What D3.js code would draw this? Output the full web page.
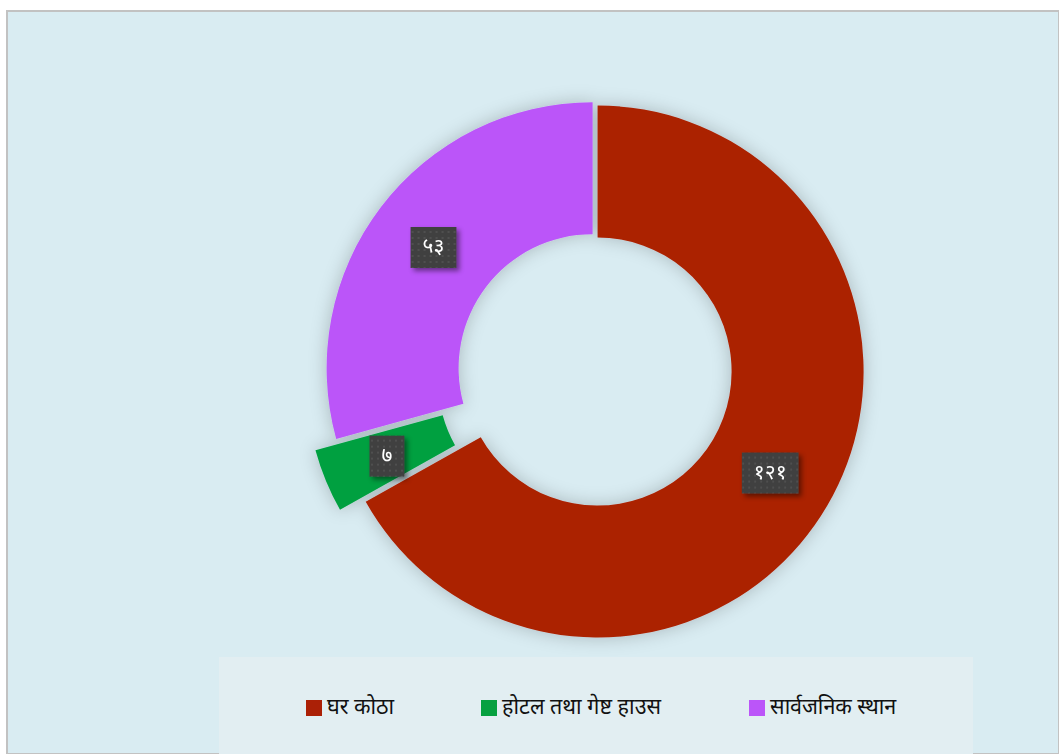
<!DOCTYPE html>
<html>
<head>
<meta charset="utf-8">
<script src="https://cdn.jsdelivr.net/npm/d3@7"></script>
<style>
  body { margin: 0; background: #fff; }
  svg text { font-family: "Noto Sans", "Lohit Devanagari", "FreeSans", sans-serif; }
</style>
</head>
<body>
<div id="chart"></div>
<script>
// data
var categories = ["घर कोठा", "होटल तथा गेष्ट हाउस", "सार्वजनिक स्थान"];
var values = [121, 7, 53];
var valueLabels = ["१२१", "७", "५३"];
var colors = ["#ab2006", "#06a040", "#bb55f9"];
var explode = [3, 25, 3];

var width = 1059;
var height = 754;
var cx = 595, cy = 370;
var outerR = 266, innerR = 134;

var svg = d3.select("#chart")
    .append("svg")
    .attr("width", width)
    .attr("height", height);

var defs = svg.append("defs");

var shadow = defs.append("filter").attr("id", "pie-shadow")
    .attr("x", "-20%").attr("y", "-20%").attr("width", "140%").attr("height", "140%");
shadow.append("feDropShadow")
    .attr("dx", 0).attr("dy", 0)
    .attr("stdDeviation", 9)
    .attr("flood-color", "#000")
    .attr("flood-opacity", 0.22);

var boxShadow = defs.append("filter").attr("id", "box-shadow")
    .attr("x", "-30%").attr("y", "-30%").attr("width", "160%").attr("height", "160%");
boxShadow.append("feDropShadow")
    .attr("dx", 3).attr("dy", 3)
    .attr("stdDeviation", 2.5)
    .attr("flood-color", "#000")
    .attr("flood-opacity", 0.45);

var dots = defs.append("pattern").attr("id", "dots")
    .attr("width", 6).attr("height", 6)
    .attr("patternUnits", "userSpaceOnUse");
dots.append("rect").attr("width", 6).attr("height", 6).attr("fill", "#3f3f3f");
dots.append("circle").attr("cx", 3).attr("cy", 3).attr("r", 1).attr("fill", "#555");

// panel
svg.append("rect")
    .attr("x", 7).attr("y", 11)
    .attr("width", width - 7).attr("height", height - 11)
    .attr("fill", "#d9ecf2")
    .attr("stroke", "#c2c2c2")
    .attr("stroke-width", 2);

// legend area
svg.append("rect")
    .attr("x", 219).attr("y", 657)
    .attr("width", 754).attr("height", height - 657)
    .attr("fill", "#e2eef2");

var pie = d3.pie().sort(null).value(function(d) { return d; });
var arcs = pie(values);
var arc = d3.arc().innerRadius(innerR).outerRadius(outerR);

function offset(d, i) {
    var mid = (d.startAngle + d.endAngle) / 2;
    return [Math.sin(mid) * explode[i], -Math.cos(mid) * explode[i]];
}

var g = svg.append("g")
    .attr("transform", "translate(" + cx + "," + cy + ")");

g.append("g")
    .attr("filter", "url(#pie-shadow)")
    .selectAll("path")
    .data(arcs)
    .enter()
    .append("path")
    .attr("d", arc)
    .attr("fill", function(d, i) { return colors[i]; })
    .attr("transform", function(d, i) {
        var o = offset(d, i);
        return "translate(" + o[0] + "," + o[1] + ")";
    });

// value labels
var labels = g.selectAll("g.label")
    .data(arcs)
    .enter()
    .append("g")
    .attr("class", "label")
    .attr("transform", function(d, i) {
        var c = arc.centroid(d);
        var o = offset(d, i);
        return "translate(" + (c[0] + o[0]) + "," + (c[1] + o[1]) + ")";
    });

labels.each(function(d, i) {
    var lg = d3.select(this);
    var t = lg.append("text")
        .attr("text-anchor", "middle")
        .attr("dy", "0.3em")
        .attr("fill", "#fff")
        .attr("font-size", 21)
        .text(valueLabels[i]);
    var w = t.node().getComputedTextLength() + 24;
    lg.insert("rect", "text")
        .attr("x", -w / 2).attr("y", -20)
        .attr("width", w).attr("height", 41)
        .attr("fill", "url(#dots)")
        .attr("filter", "url(#box-shadow)");
});

// legend
var legendX = [306, 481, 749];
var legend = svg.selectAll("g.legend")
    .data(categories)
    .enter()
    .append("g")
    .attr("class", "legend")
    .attr("transform", function(d, i) { return "translate(" + legendX[i] + ",700)"; });

legend.append("rect")
    .attr("width", 16).attr("height", 16)
    .attr("fill", function(d, i) { return colors[i]; });

legend.append("text")
    .attr("x", 21).attr("y", 14)
    .attr("font-size", 21.5)
    .attr("fill", "#111")
    .attr("textLength", function(d, i) { return [67, 159, 126][i]; })
    .text(function(d) { return d; });
</script>
</body>
</html>
